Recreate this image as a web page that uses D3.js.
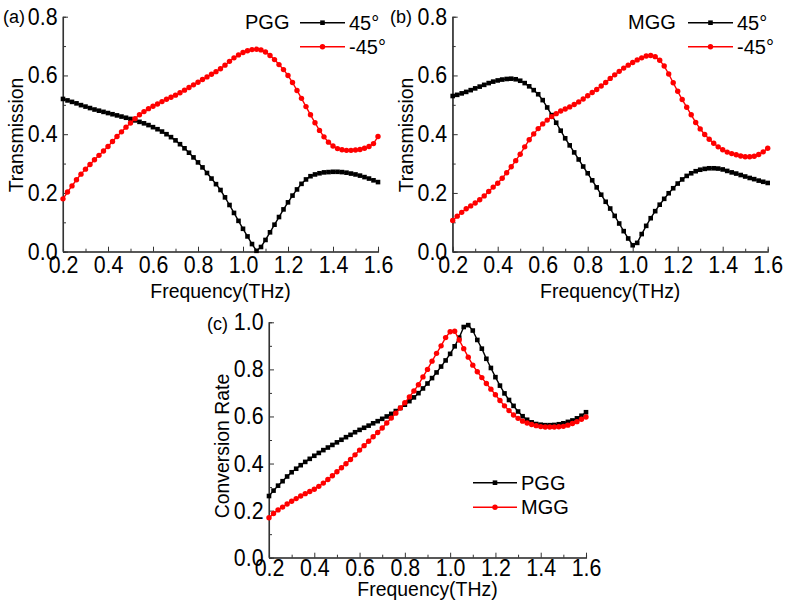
<!DOCTYPE html>
<html><head><meta charset="utf-8">
<script src="https://cdn.jsdelivr.net/npm/d3@7"></script>
<style>
body{margin:0;background:#fff}
svg{display:block;background:#fff}
text{font-family:"Liberation Sans",Arial,sans-serif;fill:#000}
</style>
</head><body>
<svg id="chart" width="787" height="611"></svg>
<script>
// ---------- DATA ----------
const freq = [0.20,0.22,0.24,0.26,0.28,0.30,0.32,0.34,0.36,0.38,0.40,0.42,0.44,0.46,0.48,0.50,0.52,0.54,0.56,0.58,0.60,0.62,0.64,0.66,0.68,0.70,0.72,0.74,0.76,0.78,0.80,0.82,0.84,0.86,0.88,0.90,0.92,0.94,0.96,0.98,1.00,1.02,1.04,1.06,1.08,1.10,1.12,1.14,1.16,1.18,1.20,1.22,1.24,1.26,1.28,1.30,1.32,1.34,1.36,1.38,1.40,1.42,1.44,1.46,1.48,1.50,1.52,1.54,1.56,1.58,1.60];

// (a) PGG transmission
const pggPos45 = [0.520,0.515,0.510,0.505,0.499,0.494,0.489,0.484,0.480,0.476,0.472,0.468,0.464,0.460,0.456,0.452,0.447,0.442,0.437,0.431,0.424,0.417,0.409,0.400,0.390,0.379,0.366,0.352,0.337,0.321,0.304,0.287,0.268,0.249,0.230,0.210,0.185,0.159,0.132,0.105,0.078,0.052,0.026,0.003,0.016,0.040,0.066,0.092,0.118,0.144,0.168,0.191,0.212,0.231,0.246,0.257,0.263,0.267,0.270,0.271,0.272,0.272,0.271,0.269,0.266,0.263,0.259,0.254,0.249,0.243,0.237];
const pggNeg45 = [0.180,0.203,0.224,0.245,0.264,0.281,0.297,0.313,0.328,0.343,0.358,0.375,0.392,0.408,0.424,0.438,0.453,0.466,0.477,0.487,0.495,0.503,0.511,0.519,0.526,0.533,0.541,0.550,0.559,0.568,0.577,0.586,0.595,0.604,0.613,0.623,0.635,0.648,0.660,0.670,0.678,0.684,0.688,0.689,0.687,0.680,0.668,0.654,0.637,0.620,0.600,0.576,0.549,0.522,0.494,0.466,0.439,0.413,0.391,0.373,0.360,0.351,0.347,0.345,0.345,0.346,0.348,0.352,0.358,0.368,0.392];

// (b) MGG transmission
const mggPos45 = [0.530,0.534,0.539,0.544,0.550,0.556,0.562,0.568,0.574,0.579,0.583,0.586,0.588,0.589,0.587,0.582,0.574,0.563,0.550,0.536,0.516,0.491,0.465,0.439,0.412,0.386,0.362,0.338,0.314,0.290,0.267,0.243,0.219,0.194,0.170,0.147,0.122,0.096,0.070,0.045,0.022,0.030,0.060,0.088,0.114,0.138,0.160,0.180,0.199,0.216,0.232,0.246,0.258,0.267,0.274,0.279,0.282,0.284,0.284,0.283,0.280,0.275,0.270,0.266,0.261,0.256,0.251,0.247,0.242,0.238,0.234];
const mggNeg45 = [0.106,0.121,0.134,0.146,0.156,0.166,0.177,0.190,0.205,0.220,0.233,0.250,0.269,0.289,0.310,0.332,0.357,0.381,0.401,0.419,0.435,0.448,0.460,0.470,0.479,0.486,0.493,0.501,0.510,0.520,0.531,0.542,0.552,0.564,0.576,0.590,0.602,0.614,0.625,0.635,0.644,0.653,0.660,0.666,0.668,0.664,0.652,0.632,0.605,0.575,0.546,0.518,0.492,0.466,0.440,0.418,0.399,0.383,0.369,0.357,0.347,0.339,0.334,0.330,0.326,0.323,0.323,0.325,0.331,0.340,0.352];

// (c) conversion rate
const convPGG = [0.262,0.285,0.306,0.325,0.345,0.363,0.378,0.393,0.407,0.420,0.433,0.445,0.457,0.468,0.479,0.490,0.501,0.512,0.522,0.533,0.543,0.552,0.561,0.571,0.580,0.590,0.600,0.611,0.623,0.636,0.650,0.665,0.681,0.699,0.719,0.740,0.763,0.787,0.812,0.838,0.866,0.898,0.935,0.980,0.988,0.965,0.925,0.888,0.845,0.806,0.767,0.731,0.698,0.670,0.645,0.621,0.601,0.586,0.575,0.568,0.565,0.563,0.563,0.564,0.567,0.571,0.577,0.583,0.592,0.603,0.618];
const convMGG = [0.170,0.188,0.203,0.215,0.228,0.240,0.251,0.262,0.272,0.281,0.291,0.303,0.317,0.332,0.348,0.365,0.382,0.399,0.417,0.437,0.457,0.476,0.495,0.514,0.532,0.551,0.572,0.593,0.614,0.636,0.658,0.683,0.708,0.735,0.768,0.800,0.835,0.868,0.900,0.935,0.960,0.962,0.925,0.888,0.852,0.818,0.790,0.765,0.740,0.716,0.692,0.668,0.645,0.625,0.606,0.592,0.580,0.572,0.566,0.561,0.557,0.555,0.555,0.555,0.556,0.558,0.563,0.570,0.578,0.588,0.598];

const xTicks = [0.2,0.4,0.6,0.8,1.0,1.2,1.4,1.6];
const xMinor = [0.3,0.5,0.7,0.9,1.1,1.3,1.5];
const yTicksT = [0.0,0.2,0.4,0.6,0.8];
const yMinorT = [0.1,0.3,0.5,0.7];
const yTicksC = [0.0,0.2,0.4,0.6,0.8,1.0];
const yMinorC = [0.1,0.3,0.5,0.7,0.9];

const xTitle = "Frequency(THz)";
const yTitleT = "Transmission";
const yTitleC = "Conversion Rate";
const legT = ["45°","-45°"];
const legC = ["PGG","MGG"];

// ---------- DRAW ----------
const svg = d3.select("#chart");
const BLACK = "#000", RED = "#ff0000";
const FONT_TICK = 23.5, TICK_SX = 0.91;
const FONT_LAB = 21, LAB_SX = 0.925;

function drawMarker(g, type, color, x, y){
  if(type === "sq"){
    g.append("rect").attr("x", x-2.3).attr("y", y-2.3).attr("width",4.6).attr("height",4.6).attr("fill",color);
  } else {
    g.append("circle").attr("cx", x).attr("cy", y).attr("r", 2.7).attr("fill", color);
  }
}

function panel(cfg){
  const g = svg.append("g");
  const x = d3.scaleLinear().domain([0.2,1.6]).range([cfg.l, cfg.r]);
  const y = d3.scaleLinear().domain([0, cfg.ymax]).range([cfg.b, cfg.t]);

  // axes
  const ax = g.append("g").attr("transform",`translate(0,${cfg.b})`)
    .call(d3.axisBottom(x).tickValues(xTicks).tickSize(-5).tickPadding(cfg.xpad).tickFormat(d3.format(".1f")));
  g.append("g").attr("transform",`translate(0,${cfg.b})`)
    .call(d3.axisBottom(x).tickValues(xMinor).tickSize(-3).tickFormat(""));
  const ay = g.append("g").attr("transform",`translate(${cfg.l},0)`)
    .call(d3.axisLeft(y).tickValues(cfg.yt).tickSize(-5).tickPadding(6).tickFormat(d3.format(".1f")));
  g.append("g").attr("transform",`translate(${cfg.l},0)`)
    .call(d3.axisLeft(y).tickValues(cfg.ym).tickSize(-3).tickFormat(""));
  g.selectAll(".domain").attr("stroke","#333").attr("stroke-width",1.1);
  g.selectAll(".tick line").attr("stroke","#333").attr("stroke-width",1);
  g.selectAll(".tick text").attr("font-size",FONT_TICK).attr("font-family",'"Liberation Sans",Arial,sans-serif')
    .attr("fill","#000").attr("transform",`scale(${TICK_SX},1)`);
  ax.select(".domain").attr("d", `M${cfg.l},0H${cfg.r}`);
  ay.select(".domain").attr("d", `M0,${cfg.b}V${cfg.t}`);

  // titles
  g.append("text").attr("transform",`translate(${(cfg.l+cfg.r)/2},${cfg.xtitleY}) scale(${LAB_SX},1)`)
    .attr("text-anchor","middle").attr("font-size",FONT_LAB).text(xTitle);
  g.append("text").attr("transform",`translate(${cfg.ytitleX},${cfg.ytitleC}) rotate(-90) scale(${LAB_SX},1)`)
    .attr("text-anchor","middle").attr("font-size",FONT_LAB).text(cfg.ytitle);
  g.append("text").attr("x",cfg.tagX).attr("y",cfg.tagY).attr("font-size",18).text(cfg.tag);

  // series
  const line = d3.line().x((d,i)=>x(freq[i])).y(d=>y(d)).curve(d3.curveLinear);
  cfg.series.forEach(s=>{
    g.append("path").datum(s.v).attr("d",line).attr("fill","none").attr("stroke",s.c).attr("stroke-width",1.4);
    const mg = g.append("g");
    s.v.forEach((v,i)=> drawMarker(mg, s.m, s.c, x(freq[i]), y(v)));
  });

  // legend
  const lg = g.append("g");
  if(cfg.legTitle){
    lg.append("text").attr("x",cfg.legTitleX).attr("y",cfg.legY[0]+6.5).attr("font-size",20).text(cfg.legTitle);
  }
  cfg.series.forEach((s,k)=>{
    const yy = cfg.legY[k];
    lg.append("line").attr("x1",cfg.legX1).attr("x2",cfg.legX2).attr("y1",yy).attr("y2",yy).attr("stroke",s.c).attr("stroke-width",1.4);
    drawMarker(lg, s.m, s.c, (cfg.legX1+cfg.legX2)/2, yy);
    lg.append("text").attr("x",cfg.legX2+4).attr("y",yy+7).attr("font-size",20).text(s.name);
  });
}

panel({l:63, r:378, t:16.7, b:251.7, ymax:0.8, yt:yTicksT, ym:yMinorT, xpad:5,
  xtitleY:298, ytitle:yTitleT, ytitleX:23, ytitleC:135, tag:"(a)", tagX:3, tagY:23,
  series:[{v:pggPos45,c:BLACK,m:"sq",name:legT[0]},{v:pggNeg45,c:RED,m:"ci",name:legT[1]}],
  legTitle:"PGG", legTitleX:245, legX1:300, legX2:345, legY:[22.7,46.7]});

panel({l:452.7, r:767.7, t:16.7, b:251.7, ymax:0.8, yt:yTicksT, ym:yMinorT, xpad:5,
  xtitleY:298, ytitle:yTitleT, ytitleX:413, ytitleC:135, tag:"(b)", tagX:390, tagY:23,
  series:[{v:mggPos45,c:BLACK,m:"sq",name:legT[0]},{v:mggNeg45,c:RED,m:"ci",name:legT[1]}],
  legTitle:"MGG", legTitleX:628, legX1:688, legX2:733, legY:[22.7,46.7]});

panel({l:269, r:586, t:322.3, b:557.7, ymax:1.0, yt:yTicksC, ym:yMinorC, xpad:2,
  xtitleY:596, ytitle:yTitleC, ytitleX:229, ytitleC:446, tag:"(c)", tagX:207, tagY:330,
  series:[{v:convPGG,c:BLACK,m:"sq",name:legC[0]},{v:convMGG,c:RED,m:"ci",name:legC[1]}],
  legTitle:null, legX1:473, legX2:517, legY:[482.7,507.3]});
</script>
</body></html>
